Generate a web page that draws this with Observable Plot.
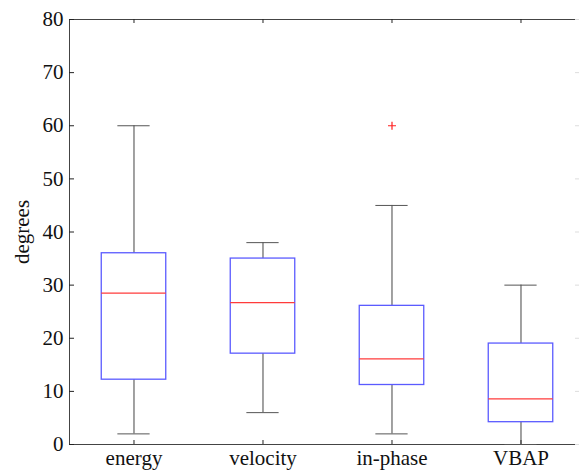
<!DOCTYPE html>
<html>
<head>
<meta charset="utf-8">
<script src="https://cdn.jsdelivr.net/npm/d3@7"></script>
<script src="https://cdn.jsdelivr.net/npm/@observablehq/plot@0.6"></script>
<style>
  html, body { margin: 0; padding: 0; background: #fff; overflow: hidden; }
  svg { display: block; }
  svg text { font-family: 'Liberation Serif', 'Times New Roman', serif !important; }
</style>
</head>
<body>
<div id="chart"></div>
<script>
const categories = ["energy", "velocity", "in-phase", "VBAP"];
const whiskerLow = [2, 6, 2, 0];
const q1 = [12.2, 17.1, 11.2, 4.2];
const median = [28.5, 26.7, 16.1, 8.6];
const q3 = [36, 35, 26.1, 19];
const whiskerHigh = [60, 38, 45, 30];
const outlierCategory = ["in-phase"];
const outlierValue = [60];
const yTicks = [0, 10, 20, 30, 40, 50, 60, 70, 80];
const yLabel = "degrees";

const boxes = categories.map((c, i) => ({
  pos: i + 1, name: c,
  low: whiskerLow[i], q1: q1[i], med: median[i], q3: q3[i], high: whiskerHigh[i]
}));
const outliers = outlierCategory.map((c, i) => ({pos: categories.indexOf(c) + 1, value: outlierValue[i]}));

const plusSymbol = {
  draw(ctx, size) {
    const r = Math.sqrt(size / Math.PI);
    ctx.moveTo(-r, 0); ctx.lineTo(r, 0);
    ctx.moveTo(0, -r); ctx.lineTo(0, r);
  }
};

const W = 579, H = 475;
const axisColor = "#444";
const font = "Liberation Serif";

const chart = Plot.plot({
  width: W,
  height: H,
  marginLeft: 69,
  marginRight: 0,
  marginTop: 19,
  marginBottom: 31,
  style: {fontFamily: font, fontSize: "21px", color: "#111", background: "#fff"},
  x: {domain: [0.5, 4.4535], axis: null},
  y: {domain: [0, 80], axis: null},
  marks: [
    Plot.ruleY([0, 80], {stroke: axisColor, strokeWidth: 1}),
    Plot.ruleX([0.5], {stroke: axisColor, strokeWidth: 1}),
    Plot.tickY(yTicks, {y: d => d, stroke: "#222", insetRight: 505}),
    Plot.tickY(yTicks, {y: d => d, stroke: "#ddd", insetLeft: 506}),
    Plot.tickX(boxes, {x: "pos", stroke: "#222", insetTop: H - 19 - 31 - 4}),
    Plot.tickX(boxes, {x: "pos", stroke: "#222", insetBottom: H - 19 - 31 - 4}),
    Plot.ruleX(boxes, {x: "pos", y1: "q3", y2: "high", stroke: "#444"}),
    Plot.ruleX(boxes, {x: "pos", y1: "low", y2: "q1", stroke: "#444"}),
    Plot.ruleY(boxes, {y: "high", x1: d => d.pos - 0.125, x2: d => d.pos + 0.125, stroke: "#555"}),
    Plot.ruleY(boxes, {y: "low", x1: d => d.pos - 0.125, x2: d => d.pos + 0.125, stroke: "#555"}),
    Plot.rect(boxes, {x1: d => d.pos - 0.25, x2: d => d.pos + 0.25, y1: "q1", y2: "q3", fill: "none", stroke: "#5b5bff", strokeWidth: 1.3}),
    Plot.ruleY(boxes, {y: "med", x1: d => d.pos - 0.25, x2: d => d.pos + 0.25, stroke: "#ff3b3b", strokeWidth: 1.2}),
    Plot.dot(outliers, {x: "pos", y: "value", symbol: plusSymbol, r: 4, stroke: "#ff2020", fill: "none", strokeWidth: 1.2}),
    Plot.text(yTicks, {y: d => d, text: d => String(d), frameAnchor: "left", dx: -6, textAnchor: "end", fill: "#111", fontSize: 21, fontFamily: font}),
    Plot.text(boxes, {x: "pos", text: "name", frameAnchor: "bottom", dy: 20, fill: "#111", fontSize: 21, fontFamily: font}),
    Plot.text([yLabel], {text: d => d, frameAnchor: "left", dx: -47, rotate: -90, textAnchor: "middle", fill: "#111", fontSize: 21, fontFamily: font})
  ]
});
document.getElementById("chart").appendChild(chart);
</script>
</body>
</html>
